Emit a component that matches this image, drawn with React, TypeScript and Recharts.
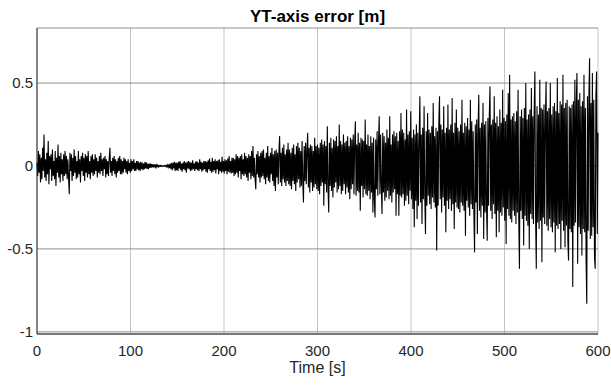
import { LineChart, Line, XAxis, YAxis, CartesianGrid } from 'recharts';

// sample spacing of the error trace, seconds
const SAMPLE_STEP = 0.75;

// YT-axis error [m] in 30 s blocks (40 samples each)
const err0to30 = [
  0.02, -0.06, 0.09, -0.04, 0.07, -0.1, 0.05, -0.08, 0.11, -0.03,
  0.19, -0.07, 0.04, -0.09, 0.08, -0.05, 0.15, -0.11, 0.06, -0.02,
  0.07, -0.09, 0.1, -0.06, 0.03, -0.08, 0.09, -0.12, 0.05, -0.04,
  0.13, -0.07, 0.06, -0.1, 0.08, -0.05, 0.04, -0.09, 0.07, -0.06,
];
const err30to60 = [
  0.09, -0.05, 0.06, -0.08, 0.04, -0.07, -0.17, 0.08, -0.03, 0.07,
  -0.09, 0.05, -0.06, 0.1, -0.04, 0.06, -0.08, 0.03, -0.07, 0.09,
  -0.05, 0.04, -0.1, 0.06, -0.03, 0.08, -0.06, 0.05, -0.09, 0.07,
  -0.04, 0.06, -0.07, 0.09, -0.05, 0.03, -0.08, 0.06, -0.04, 0.07,
];
const err60to90 = [
  -0.06, 0.04, -0.05, 0.07, -0.03, 0.05, -0.07, 0.03, -0.04, 0.06,
  -0.05, 0.08, -0.03, 0.04, -0.06, 0.05, -0.02, 0.06, -0.07, 0.04,
  -0.05, 0.03, -0.06, 0.05, 0.11, -0.04, 0.03, -0.06, 0.05, -0.03,
  0.06, -0.05, 0.04, -0.07, 0.03, -0.04, 0.05, -0.03, 0.06, -0.05,
];
const err90to120 = [
  0.04, -0.05, 0.03, -0.04, 0.05, -0.02, 0.04, -0.04, 0.03, -0.05,
  0.04, -0.03, 0.02, -0.04, 0.04, -0.03, 0.03, -0.02, 0.04, -0.03,
  0.02, -0.03, 0.03, -0.02, 0.03, -0.025, 0.02, -0.03, 0.025, -0.02,
  0.02, -0.025, 0.015, -0.02, 0.025, -0.015, 0.02, -0.018, 0.015, -0.02,
];
const err120to150 = [
  0.015, -0.012, 0.014, -0.01, 0.012, -0.009, 0.01, -0.008, 0.009, -0.007,
  0.007, -0.006, 0.005, -0.005, 0.004, -0.003, 0.003, -0.003, 0.002, -0.002,
  0.002, -0.002, 0.003, -0.002, 0.004, -0.005, 0.006, -0.008, 0.01, -0.012,
  0.015, -0.02, 0.018, -0.025, 0.02, -0.015, 0.025, -0.03, 0.02, -0.025,
];
const err150to180 = [
  0.02, -0.03, 0.025, -0.015, 0.03, -0.025, 0.015, -0.035, 0.02, -0.02,
  0.03, -0.025, 0.02, -0.04, 0.025, -0.015, 0.03, -0.02, 0.025, -0.03,
  0.02, -0.025, 0.035, -0.02, 0.015, -0.03, 0.025, -0.02, 0.03, -0.025,
  0.02, -0.03, 0.04, -0.02, 0.025, -0.035, 0.02, -0.025, 0.03, -0.02,
];
const err180to210 = [
  0.03, -0.035, 0.025, -0.04, 0.035, -0.02, 0.045, -0.03, 0.025, -0.04,
  0.05, -0.035, 0.03, -0.025, 0.04, -0.045, 0.03, -0.02, 0.035, -0.05,
  0.04, -0.03, 0.025, -0.04, 0.055, -0.035, 0.03, -0.045, 0.04, -0.03,
  0.035, -0.05, 0.045, -0.035, 0.06, -0.04, 0.03, -0.045, 0.05, -0.04,
];
const err210to240 = [
  0.05, -0.06, 0.04, -0.05, 0.07, -0.04, 0.06, -0.07, 0.05, -0.03,
  0.06, -0.08, 0.07, -0.05, 0.04, -0.06, 0.08, -0.05, 0.06, -0.07,
  0.05, -0.09, 0.07, -0.04, 0.06, -0.08, 0.09, -0.06, 0.12, -0.07,
  0.05, -0.08, -0.14, 0.07, -0.05, 0.09, -0.07, 0.06, -0.1, 0.08,
];
const err240to270 = [
  -0.07, 0.09, -0.06, 0.1, -0.08, 0.05, -0.11, 0.08, -0.07, 0.12,
  -0.09, 0.06, -0.1, 0.08, -0.05, 0.11, -0.09, 0.07, -0.12, 0.09,
  -0.15, 0.1, -0.07, 0.08, -0.11, 0.09, 0.18, -0.1, 0.08, -0.12,
  0.11, -0.08, 0.13, -0.1, 0.07, -0.12, 0.1, -0.09, 0.14, -0.11,
];
const err270to300 = [
  0.1, -0.12, 0.08, -0.14, 0.11, -0.09, 0.13, -0.11, 0.07, -0.15,
  0.12, -0.1, 0.14, -0.08, 0.11, -0.13, 0.09, -0.12, 0.15, -0.1,
  -0.22, 0.12, -0.09, 0.14, -0.11, 0.1, 0.2, -0.13, 0.11, -0.16,
  0.13, -0.1, 0.12, -0.15, 0.09, -0.13, 0.17, -0.11, 0.12, -0.14,
];
const err300to330 = [
  0.13, -0.15, 0.11, -0.17, 0.14, -0.12, 0.16, -0.1, 0.13, -0.24,
  0.15, -0.11, 0.12, -0.16, 0.24, -0.13, -0.28, 0.14, -0.12, 0.17,
  -0.15, 0.11, -0.19, 0.16, -0.13, 0.15, -0.1, 0.18, -0.16, 0.12,
  -0.14, 0.25, -0.12, 0.15, -0.17, 0.13, -0.15, 0.19, -0.11, 0.14,
];
const err330to360 = [
  -0.17, 0.15, -0.13, 0.18, -0.16, 0.12, -0.2, 0.17, -0.14, 0.16,
  -0.11, 0.19, -0.17, 0.14, 0.27, -0.18, 0.13, -0.15, 0.2, -0.16,
  0.14, -0.27, 0.17, -0.12, 0.16, -0.19, 0.15, -0.14, 0.28, -0.17,
  0.13, -0.18, 0.19, -0.15, 0.12, -0.2, 0.18, -0.16, 0.14, -0.28,
];
const err360to390 = [
  0.17, -0.2, -0.31, 0.16, -0.14, 0.21, -0.18, 0.15, 0.3, -0.17,
  0.19, -0.13, -0.29, 0.2, -0.16, 0.18, -0.21, 0.14, -0.19, 0.22,
  -0.15, 0.17, -0.2, 0.3, -0.18, 0.13, -0.22, 0.19, -0.16, 0.21,
  -0.14, 0.18, -0.3, 0.2, -0.17, 0.15, -0.3, 0.21, -0.18, 0.32,
];
const err390to420 = [
  -0.19, 0.22, -0.17, 0.2, -0.24, 0.16, -0.21, 0.34, -0.18, 0.19,
  -0.23, 0.21, -0.15, 0.33, -0.2, 0.17, -0.26, 0.22, -0.37, 0.19,
  -0.21, 0.25, -0.32, 0.2, -0.24, 0.17, 0.42, -0.22, 0.19, -0.35,
  0.23, -0.2, 0.36, -0.19, -0.41, 0.21, -0.24, 0.32, -0.18, 0.22,
];
const err420to450 = [
  -0.23, 0.2, -0.26, 0.24, -0.19, 0.38, -0.22, 0.18, -0.25, 0.23,
  -0.51, 0.21, -0.24, 0.26, 0.42, -0.2, 0.25, -0.28, 0.22, -0.19,
  0.36, -0.24, 0.2, -0.4, 0.23, -0.21, 0.37, -0.26, 0.22, -0.2,
  0.25, -0.27, 0.41, -0.23, 0.2, -0.38, 0.26, -0.22, 0.34, -0.25,
];
const err450to480 = [
  0.23, -0.26, 0.21, -0.28, 0.25, -0.22, 0.4, -0.24, 0.2, -0.27,
  0.26, -0.42, 0.24, -0.21, 0.29, -0.25, 0.22, -0.3, 0.4, -0.23,
  0.27, -0.26, 0.21, -0.29, -0.52, 0.25, -0.22, 0.28, -0.41, 0.24,
  0.43, -0.27, 0.23, -0.31, 0.26, -0.24, 0.38, -0.44, 0.25, -0.28,
];
const err480to510 = [
  0.27, -0.25, -0.45, 0.29, -0.24, 0.31, 0.48, -0.27, 0.25, -0.32,
  0.28, -0.23, 0.42, -0.29, 0.26, -0.43, 0.3, -0.27, 0.24, -0.4,
  0.34, -0.28, 0.26, -0.3, 0.46, -0.25, 0.29, -0.33, 0.27, -0.47,
  0.31, -0.26, 0.44, -0.3, 0.55, -0.32, 0.28, -0.34, 0.3, -0.27,
];
const err510to540 = [
  0.32, -0.3, 0.27, -0.35, 0.33, -0.28, 0.46, -0.31, -0.62, 0.3,
  -0.27, 0.34, -0.32, 0.29, -0.48, 0.35, -0.3, 0.5, -0.33, 0.28,
  -0.36, 0.31, -0.5, 0.34, -0.29, 0.47, -0.32, 0.3, -0.35, 0.33,
  0.57, -0.3, -0.62, 0.36, -0.34, 0.31, -0.38, 0.52, -0.33, 0.35,
];
const err540to570 = [
  -0.58, 0.34, -0.31, 0.37, -0.35, 0.3, 0.51, -0.36, 0.33, -0.39,
  0.35, -0.32, 0.5, -0.37, 0.31, -0.4, 0.36, -0.34, 0.38, -0.52,
  0.33, -0.36, 0.53, -0.38, 0.32, -0.35, 0.39, -0.5, 0.37, -0.33,
  0.55, -0.39, 0.35, -0.49, 0.38, -0.36, 0.4, -0.45, -0.57, 0.36,
];
const err570to600 = [
  -0.38, 0.35, -0.4, 0.37, -0.73, 0.39, -0.36, 0.52, -0.34, 0.38,
  0.56, -0.59, 0.4, -0.37, 0.44, -0.41, 0.36, -0.54, 0.39, -0.38,
  0.55, -0.4, 0.35, -0.56, -0.83, 0.42, -0.39, 0.41, 0.65, -0.44,
  0.38, -0.42, 0.56, -0.37, 0.4, -0.55, -0.62, 0.43, 0.57, -0.41,
  0.2,
];

const errorValues = [
  ...err0to30, ...err30to60, ...err60to90, ...err90to120, ...err120to150,
  ...err150to180, ...err180to210, ...err210to240, ...err240to270, ...err270to300,
  ...err300to330, ...err330to360, ...err360to390, ...err390to420, ...err420to450,
  ...err450to480, ...err480to510, ...err510to540, ...err540to570, ...err570to600,
];

const xTicks = [0, 100, 200, 300, 400, 500, 600];
const yTicks = [-1, -0.5, 0, 0.5];
const X_DOMAIN = [0, 600];
const Y_DOMAIN = [-1.013, 0.832];

const FONT = '"Liberation Sans", Arial, Helvetica, sans-serif';
const AXIS_COLOR = '#262626';

export default function App() {
  const data = errorValues.map((v, i) => ({ t: i * SAMPLE_STEP, v }));

  return (
    <div style={{ position: 'absolute', left: 0, top: 0, width: 611, height: 385, background: '#fff', fontFamily: FONT }}>
      <div
        style={{
          position: 'absolute', left: 37, top: 7, width: 561, textAlign: 'center',
          fontSize: 17, fontWeight: 'bold', color: '#000',
        }}
      >
        YT-axis error [m]
      </div>
      <LineChart width={611} height={385} data={data} margin={{ top: 28, right: 13, bottom: 21, left: 7 }}>
        <CartesianGrid horizontal={false} stroke="#c4c4c4" strokeWidth={1} />
        <CartesianGrid vertical={false} stroke="#8f8f8f" strokeWidth={1} />
        <XAxis
          dataKey="t"
          type="number"
          domain={X_DOMAIN}
          ticks={xTicks}
          tickLine={false}
          tickSize={0}
          tickMargin={11}
          height={30}
          axisLine={{ stroke: AXIS_COLOR }}
          tick={{ fill: AXIS_COLOR, fontSize: 15, fontFamily: FONT }}
          label={{ value: 'Time [s]', position: 'insideBottom', offset: -9, fill: AXIS_COLOR, fontSize: 16, fontFamily: FONT }}
        />
        <XAxis
          xAxisId="top"
          orientation="top"
          type="number"
          domain={X_DOMAIN}
          tick={false}
          tickLine={false}
          height={0}
          axisLine={{ stroke: AXIS_COLOR }}
        />
        <YAxis
          type="number"
          domain={Y_DOMAIN}
          ticks={yTicks}
          allowDataOverflow
          tickLine={false}
          tickSize={0}
          tickMargin={4}
          width={30}
          axisLine={{ stroke: AXIS_COLOR }}
          tick={{ fill: AXIS_COLOR, fontSize: 15, fontFamily: FONT }}
        />
        <YAxis
          yAxisId="right"
          orientation="right"
          type="number"
          domain={Y_DOMAIN}
          tick={false}
          tickLine={false}
          width={0}
          axisLine={{ stroke: AXIS_COLOR }}
        />
        <Line
          type="linear"
          dataKey="v"
          stroke="#000"
          strokeWidth={1.1}
          dot={false}
          activeDot={false}
          isAnimationActive={false}
        />
      </LineChart>
    </div>
  );
}
